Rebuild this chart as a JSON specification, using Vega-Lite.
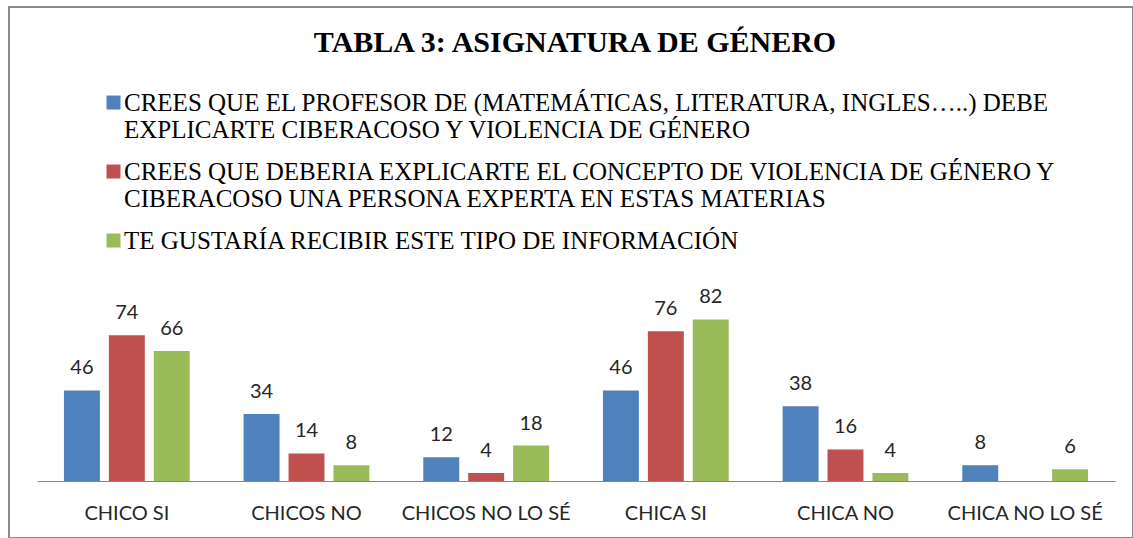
{
  "$schema": "https://vega.github.io/schema/vega-lite/v6.json",
  "autosize": {"type": "none"},
  "padding": {"left": 9, "top": 7, "right": 0, "bottom": 0},
  "width": 1124,
  "height": 531,
  "background": "white",
  "title": {
    "text": "TABLA 3: ASIGNATURA DE GÉNERO",
    "font": "Liberation Serif",
    "fontSize": 30,
    "fontWeight": "bold",
    "color": "#000000",
    "anchor": "middle",
    "frame": "group",
    "baseline": "alphabetic",
    "offset": 0,
    "dy": 75,
    "dx": 4
  },
  "config": {
    "view": {"stroke": "#8c8c8c", "strokeWidth": 2}
  },
  "data": {
    "values": [
      {"grupo": "CHICO SI", "serie": "CREES QUE EL PROFESOR DE (MATEMÁTICAS, LITERATURA, INGLES…..) DEBE\nEXPLICARTE CIBERACOSO Y VIOLENCIA DE GÉNERO", "valor": 46},
      {"grupo": "CHICO SI", "serie": "CREES QUE DEBERIA EXPLICARTE EL CONCEPTO DE VIOLENCIA DE GÉNERO Y\nCIBERACOSO UNA PERSONA EXPERTA EN ESTAS MATERIAS", "valor": 74},
      {"grupo": "CHICO SI", "serie": "TE GUSTARÍA RECIBIR ESTE TIPO DE INFORMACIÓN", "valor": 66},
      {"grupo": "CHICOS NO", "serie": "CREES QUE EL PROFESOR DE (MATEMÁTICAS, LITERATURA, INGLES…..) DEBE\nEXPLICARTE CIBERACOSO Y VIOLENCIA DE GÉNERO", "valor": 34},
      {"grupo": "CHICOS NO", "serie": "CREES QUE DEBERIA EXPLICARTE EL CONCEPTO DE VIOLENCIA DE GÉNERO Y\nCIBERACOSO UNA PERSONA EXPERTA EN ESTAS MATERIAS", "valor": 14},
      {"grupo": "CHICOS NO", "serie": "TE GUSTARÍA RECIBIR ESTE TIPO DE INFORMACIÓN", "valor": 8},
      {"grupo": "CHICOS NO LO SÉ", "serie": "CREES QUE EL PROFESOR DE (MATEMÁTICAS, LITERATURA, INGLES…..) DEBE\nEXPLICARTE CIBERACOSO Y VIOLENCIA DE GÉNERO", "valor": 12},
      {"grupo": "CHICOS NO LO SÉ", "serie": "CREES QUE DEBERIA EXPLICARTE EL CONCEPTO DE VIOLENCIA DE GÉNERO Y\nCIBERACOSO UNA PERSONA EXPERTA EN ESTAS MATERIAS", "valor": 4},
      {"grupo": "CHICOS NO LO SÉ", "serie": "TE GUSTARÍA RECIBIR ESTE TIPO DE INFORMACIÓN", "valor": 18},
      {"grupo": "CHICA SI", "serie": "CREES QUE EL PROFESOR DE (MATEMÁTICAS, LITERATURA, INGLES…..) DEBE\nEXPLICARTE CIBERACOSO Y VIOLENCIA DE GÉNERO", "valor": 46},
      {"grupo": "CHICA SI", "serie": "CREES QUE DEBERIA EXPLICARTE EL CONCEPTO DE VIOLENCIA DE GÉNERO Y\nCIBERACOSO UNA PERSONA EXPERTA EN ESTAS MATERIAS", "valor": 76},
      {"grupo": "CHICA SI", "serie": "TE GUSTARÍA RECIBIR ESTE TIPO DE INFORMACIÓN", "valor": 82},
      {"grupo": "CHICA NO", "serie": "CREES QUE EL PROFESOR DE (MATEMÁTICAS, LITERATURA, INGLES…..) DEBE\nEXPLICARTE CIBERACOSO Y VIOLENCIA DE GÉNERO", "valor": 38},
      {"grupo": "CHICA NO", "serie": "CREES QUE DEBERIA EXPLICARTE EL CONCEPTO DE VIOLENCIA DE GÉNERO Y\nCIBERACOSO UNA PERSONA EXPERTA EN ESTAS MATERIAS", "valor": 16},
      {"grupo": "CHICA NO", "serie": "TE GUSTARÍA RECIBIR ESTE TIPO DE INFORMACIÓN", "valor": 4},
      {"grupo": "CHICA NO LO SÉ", "serie": "CREES QUE EL PROFESOR DE (MATEMÁTICAS, LITERATURA, INGLES…..) DEBE\nEXPLICARTE CIBERACOSO Y VIOLENCIA DE GÉNERO", "valor": 8},
      {"grupo": "CHICA NO LO SÉ", "serie": "TE GUSTARÍA RECIBIR ESTE TIPO DE INFORMACIÓN", "valor": 6}
    ]
  },
  "encoding": {
    "x": {
      "field": "grupo",
      "type": "nominal",
      "sort": null,
      "scale": {"range": [28, 1106], "paddingInner": 0.25, "paddingOuter": 0.125},
      "axis": {
        "title": null,
        "offset": -57,
        "labelAngle": 0,
        "ticks": false,
        "domainColor": "#868686",
        "domainWidth": 1,
        "labelFont": "Lato",
        "labelFontSize": 20,
        "labelColor": "#262626",
        "labelPadding": 22,
        "labelBaseline": "top"
      }
    },
    "xOffset": {
      "field": "serie",
      "type": "nominal",
      "sort": null,
      "scale": {
        "domain": [
          "CREES QUE EL PROFESOR DE (MATEMÁTICAS, LITERATURA, INGLES…..) DEBE\nEXPLICARTE CIBERACOSO Y VIOLENCIA DE GÉNERO",
          "CREES QUE DEBERIA EXPLICARTE EL CONCEPTO DE VIOLENCIA DE GÉNERO Y\nCIBERACOSO UNA PERSONA EXPERTA EN ESTAS MATERIAS",
          "TE GUSTARÍA RECIBIR ESTE TIPO DE INFORMACIÓN"
        ],
        "paddingInner": 0.2,
        "paddingOuter": 0.1
      }
    },
    "y": {
      "field": "valor",
      "type": "quantitative",
      "scale": {"domain": [-28.93, 240.6], "nice": false, "zero": false},
      "axis": null
    }
  },
  "layer": [
    {
      "mark": {"type": "bar"},
      "encoding": {
        "y2": {"datum": 0},
        "color": {
          "field": "serie",
          "type": "nominal",
          "sort": null,
          "scale": {
            "domain": [
              "CREES QUE EL PROFESOR DE (MATEMÁTICAS, LITERATURA, INGLES…..) DEBE\nEXPLICARTE CIBERACOSO Y VIOLENCIA DE GÉNERO",
              "CREES QUE DEBERIA EXPLICARTE EL CONCEPTO DE VIOLENCIA DE GÉNERO Y\nCIBERACOSO UNA PERSONA EXPERTA EN ESTAS MATERIAS",
              "TE GUSTARÍA RECIBIR ESTE TIPO DE INFORMACIÓN"
            ],
            "range": ["#4F81BD", "#C0504D", "#9BBB59"]
          },
          "legend": {
            "title": null,
            "orient": "none",
            "legendX": 92,
            "legendY": 91,
            "direction": "vertical",
            "symbolType": "M-1,-2.14H1V-0.14H-1Z",
            "symbolSize": 196,
            "symbolStrokeWidth": 0,
            "labelFont": "Liberation Serif",
            "labelFontSize": 25,
            "labelColor": "#000000",
            "labelLimit": 1100,
            "labelOffset": -2,
            "labelBaseline": "alphabetic",
            "rowPadding": 16,
            "padding": 0,
            "labelExpr": "split(datum.label, '\\n')"
          }
        }
      }
    },
    {
      "mark": {"type": "text", "font": "Lato", "fontSize": 20, "color": "#262626", "baseline": "alphabetic", "dy": -16},
      "encoding": {
        "text": {"field": "valor", "type": "quantitative"}
      }
    }
  ]
}
